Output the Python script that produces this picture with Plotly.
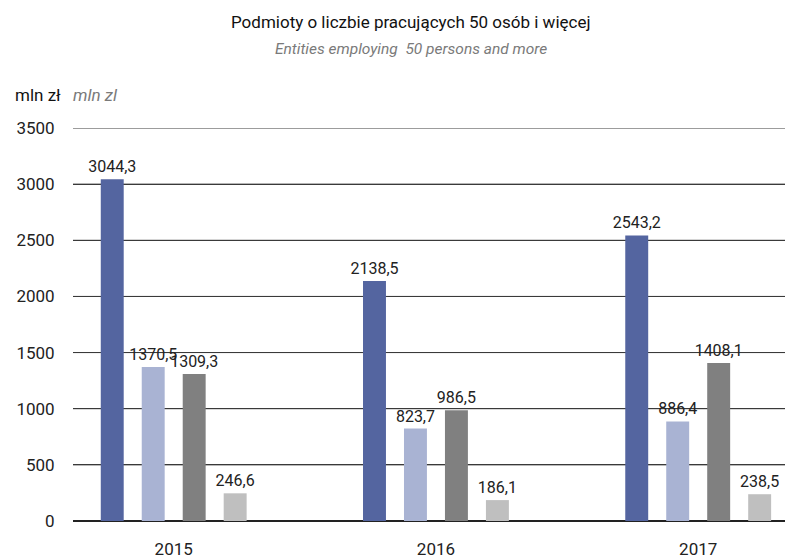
import plotly.graph_objects as go

years = ["2015", "2016", "2017"]
series_names = ["Seria 1", "Seria 2", "Seria 3", "Seria 4"]
s1 = [3044.3, 2138.5, 2543.2]
s2 = [1370.5, 823.7, 886.4]
s3 = [1309.3, 986.5, 1408.1]
s4 = [246.6, 186.1, 238.5]
y_ticks = [0, 500, 1000, 1500, 2000, 2500, 3000, 3500]

colors = ["#5465A0", "#A9B3D3", "#808080", "#BFBFBF"]
FONT = "Liberation Sans Narrow, Roboto, Liberation Sans, sans-serif"
FS = 17

fig = go.Figure()
for name, vals, col in zip(series_names, [s1, s2, s3, s4], colors):
    fig.add_trace(go.Bar(
        x=years, y=vals, name=name, marker=dict(color=col, line=dict(width=0)),
        text=[f"{v:.1f}".replace(".", ",") for v in vals],
        textposition="outside", cliponaxis=False, constraintext="none",
        textfont=dict(family=FONT, size=16, color="#222222"),
        showlegend=False,
    ))

# horizontal gridlines from the tick list
for t in y_ticks[1:]:
    fig.add_shape(type="line", xref="paper", yref="y", x0=0, x1=1, y0=t, y1=t,
                  line=dict(color="#3a3a3a", width=1), layer="below")

fig.update_layout(
    width=790, height=550,
    margin=dict(l=65, r=13, t=120, b=37, autoexpand=False),
    paper_bgcolor="white", plot_bgcolor="white",
    barmode="group", bargap=0.375, bargroupgap=0.44,
    font=dict(family=FONT, size=FS, color="#222222"),
    xaxis=dict(type="category", range=[-0.384, 2.331], showgrid=False,
               showline=False, ticks="outside", ticklen=13, tickcolor="white",
               automargin=False,
               tickfont=dict(family=FONT, size=FS, color="#222222")),
    yaxis=dict(range=[0, 3500], tickmode="array", tickvals=y_ticks,
               ticktext=[str(t) for t in y_ticks],
               showgrid=True, gridcolor="#3a3a3a", gridwidth=1,
               zeroline=True, zerolinecolor="#222222", zerolinewidth=1.5,
               showline=False, ticks="outside", ticklen=14, tickcolor="white",
               automargin=False,
               tickfont=dict(family=FONT, size=FS, color="#222222")),
    annotations=[
        dict(text="Podmioty o liczbie pracujących 50 osób i więcej", xref="paper", yref="paper",
             x=(411 - 73) / 712, y=1 + (128 - 22) / 393, xanchor="center", yanchor="middle",
             showarrow=False, font=dict(family=FONT, size=FS, color="#111111")),
        dict(text="<i>Entities employing  50 persons and more</i>", xref="paper", yref="paper",
             x=(411 - 73) / 712, y=1 + (128 - 49) / 393, xanchor="center", yanchor="middle",
             showarrow=False, font=dict(family=FONT, size=15.5, color="#7a7a7a")),
        dict(text="mln zł", xref="paper", yref="paper",
             x=(13 - 73) / 712, y=1 + (128 - 95) / 393, xanchor="left", yanchor="middle",
             showarrow=False, font=dict(family=FONT, size=FS, color="#111111")),
        dict(text="<i>mln zl</i>", xref="paper", yref="paper",
             x=(71 - 73) / 712, y=1 + (128 - 95) / 393, xanchor="left", yanchor="middle",
             showarrow=False, font=dict(family=FONT, size=FS, color="#7a7a7a")),
    ],
)

fig.write_html("out.html")
